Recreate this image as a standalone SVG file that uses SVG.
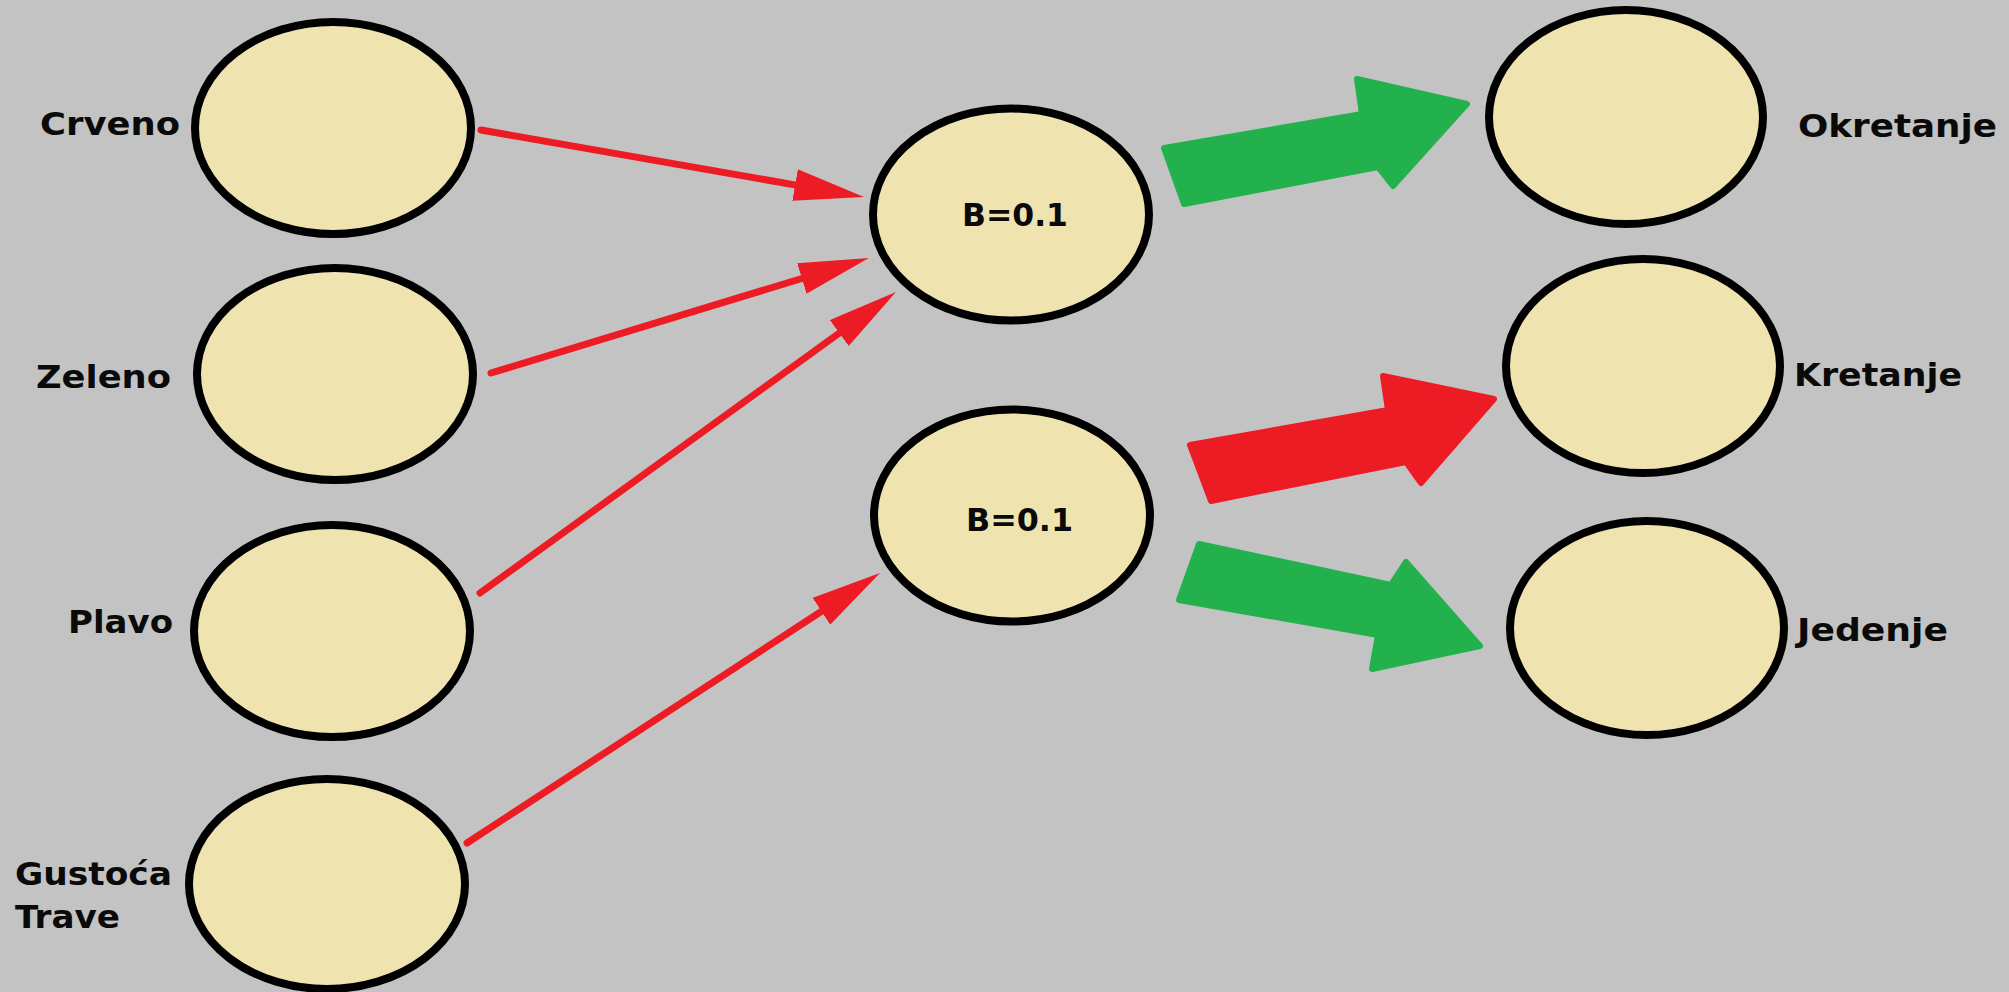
<svg xmlns="http://www.w3.org/2000/svg" width="2009" height="992" viewBox="0 0 2009 992">
  <style>
    .node { fill: #EFE4B0; stroke: #000000; stroke-width: 8; }
    .lbl { font-family: "DejaVu Sans", "Liberation Sans", sans-serif; font-weight: bold; font-size: 32px; fill: #0a0a0a; }
    .bias { font-size: 32px; }
    .wire { stroke: #ED1C24; stroke-width: 7; fill: none; stroke-linecap: round; marker-end: url(#head); }
    .big { stroke-width: 6; stroke-linejoin: round; }
    .green { fill: #22B14C; stroke: #22B14C; }
    .red { fill: #ED1C24; stroke: #ED1C24; }
  </style>
  <defs>
    <marker id="head" markerUnits="userSpaceOnUse" markerWidth="70" markerHeight="32" refX="24" refY="16" orient="auto">
      <path d="M0,0 L70,16 L0,32 Z" fill="#ED1C24"/>
    </marker>
  </defs>

  <rect x="0" y="0" width="2009" height="992" fill="#C3C3C3"/>

  <!-- input layer -->
  <g id="in-crveno">
    <ellipse class="node" cx="333" cy="128" rx="138" ry="106"/>
    <text class="lbl" x="40" y="135" textLength="140" lengthAdjust="spacingAndGlyphs">Crveno</text>
  </g>
  <g id="in-zeleno">
    <ellipse class="node" cx="335" cy="374" rx="138" ry="106"/>
    <text class="lbl" x="36" y="388" textLength="135" lengthAdjust="spacingAndGlyphs">Zeleno</text>
  </g>
  <g id="in-plavo">
    <ellipse class="node" cx="332" cy="631" rx="138" ry="106"/>
    <text class="lbl" x="68" y="633" textLength="105" lengthAdjust="spacingAndGlyphs">Plavo</text>
  </g>
  <g id="in-gustoca">
    <ellipse class="node" cx="327" cy="884" rx="138" ry="105"/>
    <text class="lbl" x="15" y="885" textLength="157" lengthAdjust="spacingAndGlyphs">Gustoća</text>
    <text class="lbl" x="15" y="928" textLength="105" lengthAdjust="spacingAndGlyphs">Trave</text>
  </g>

  <!-- hidden layer -->
  <g id="hidden-1">
    <ellipse class="node" cx="1011" cy="214.5" rx="138" ry="106"/>
    <text class="lbl bias" x="962" y="226" textLength="106" lengthAdjust="spacingAndGlyphs">B=0.1</text>
  </g>
  <g id="hidden-2">
    <ellipse class="node" cx="1012" cy="515.5" rx="138" ry="106"/>
    <text class="lbl bias" x="966" y="531" textLength="107" lengthAdjust="spacingAndGlyphs">B=0.1</text>
  </g>

  <!-- output layer -->
  <g id="out-okretanje">
    <ellipse class="node" cx="1626" cy="117" rx="137" ry="107"/>
    <text class="lbl" x="1798" y="137" textLength="199" lengthAdjust="spacingAndGlyphs">Okretanje</text>
  </g>
  <g id="out-kretanje">
    <ellipse class="node" cx="1643" cy="366" rx="137" ry="107"/>
    <text class="lbl" x="1794" y="386" textLength="168" lengthAdjust="spacingAndGlyphs">Kretanje</text>
  </g>
  <g id="out-jedenje">
    <ellipse class="node" cx="1647" cy="628" rx="137" ry="107"/>
    <text class="lbl" x="1797" y="641" textLength="151" lengthAdjust="spacingAndGlyphs">Jedenje</text>
  </g>

  <!-- connectors -->
  <g id="connectors">
    <line class="wire" x1="481" y1="130" x2="818.7" y2="189.1"/>
    <line class="wire" x1="491" y1="373" x2="824.8" y2="271.5"/>
    <line class="wire" x1="480" y1="593" x2="858.7" y2="319"/>
    <line class="wire" x1="467" y1="843" x2="841.5" y2="598.2"/>

    <polygon class="big green" points="1184,204 1164,148 1362,114 1357,79 1467,104 1393,186 1378,167"/>
    <polygon class="big red" points="1211,501 1190,445 1388,410 1383,376 1494,399 1421,483 1406,462"/>
    <polygon class="big green" points="1199,544 1179,600 1378,635 1372,669 1480,646 1406,562 1391,585"/>
  </g>
</svg>
